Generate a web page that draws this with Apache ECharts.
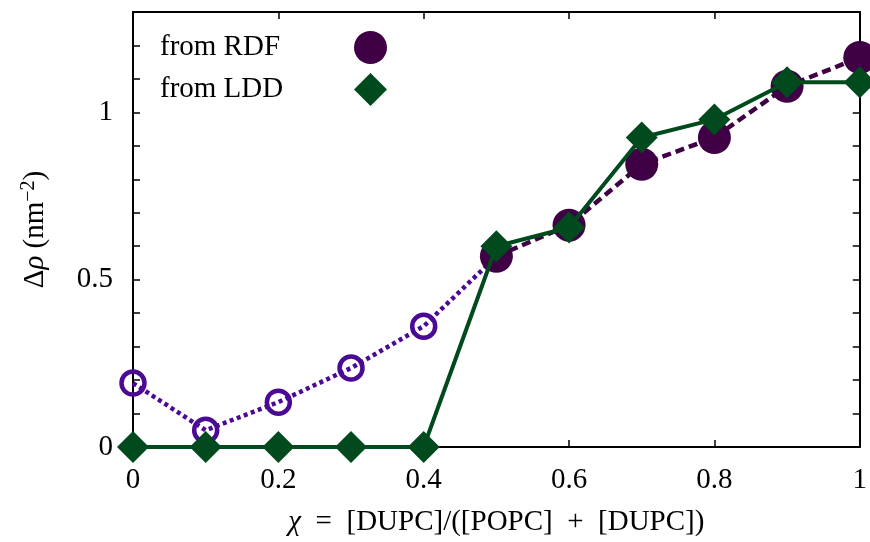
<!DOCTYPE html>
<html>
<head>
<meta charset="utf-8">
<script src="https://cdn.jsdelivr.net/npm/echarts@6/dist/echarts.min.js"></script>
<style>
  html, body { margin: 0; padding: 0; background: #fff; }
  #chart { width: 870px; height: 542px; }
</style>
</head>
<body>
<div id="chart"></div>
<script>
// Composition values
const xOpen = [0, 0.1, 0.2, 0.3, 0.4];
const rdfOpen = [0.191, 0.05, 0.134, 0.236, 0.361];
const xFilled = [0.5, 0.6, 0.7, 0.8, 0.9, 1.0];
const rdfFilled = [0.57, 0.663, 0.845, 0.925, 1.078, 1.164];
const xLdd = [0, 0.1, 0.2, 0.3, 0.4, 0.5, 0.6, 0.7, 0.8, 0.9, 1.0];
const ldd = [0, 0, 0, 0, 0, 0.6, 0.656, 0.925, 0.979, 1.09, 1.09];
const yLabels = { '0': '0', '0.5': '0.5', '1': '1' };

const FONT = 'Liberation Serif';
const FS = 29;
const openColor = '#4b0a94';
const filledColor = '#3f0046';
const greenColor = '#004a1e';

const pairs = (xs, ys) => xs.map((x, i) => [x, ys[i]]);

// dotted open-circle series runs on to the first filled point
const openData = pairs(xOpen, rdfOpen);
openData.push({ value: [xFilled[0], rdfFilled[0]], symbol: 'none' });

const chart = echarts.init(document.getElementById('chart'));
const tickStyle = { lineStyle: { color: '#000', width: 1.5 } };
const axisLine = { show: true, onZero: false, lineStyle: { color: '#000', width: 2 } };

chart.setOption({
  animation: false,
  backgroundColor: '#fff',
  grid: { left: 133, right: 7, top: 12, bottom: 95 },
  xAxis: [{
    type: 'value', min: 0, max: 1, interval: 0.2,
    axisLine: axisLine,
    axisTick: { show: true, inside: true, length: 7, ...tickStyle },
    splitLine: { show: false },
    axisLabel: {
      fontFamily: FONT, fontSize: FS, color: '#000', margin: 19,
      formatter: v => String(+v.toFixed(2))
    },
    name: '{i|χ}  =  [DUPC]/([POPC]  +  [DUPC])',
    nameLocation: 'middle', nameGap: 61,
    nameTextStyle: {
      fontFamily: FONT, fontSize: FS, color: '#000',
      rich: { i: { fontFamily: FONT, fontSize: FS, fontStyle: 'italic' } }
    }
  }, {
    type: 'value', min: 0, max: 1, interval: 0.2, position: 'top',
    axisLine: axisLine,
    axisTick: { show: true, inside: true, length: 7, ...tickStyle },
    axisLabel: { show: false },
    splitLine: { show: false }
  }],
  yAxis: [{
    type: 'value', min: 0, max: 1.3, interval: 0.1,
    axisLine: axisLine,
    axisTick: { show: true, inside: true, length: 7, ...tickStyle },
    splitLine: { show: false },
    axisLabel: {
      fontFamily: FONT, fontSize: FS, color: '#000', margin: 20,
      formatter: v => yLabels[String(+v.toFixed(2))] || ''
    },
    name: 'Δ{i|ρ} (nm{s|−2})',
    nameLocation: 'middle', nameGap: 82, nameRotate: 90,
    nameTextStyle: {
      fontFamily: FONT, fontSize: FS, color: '#000',
      rich: {
        i: { fontFamily: FONT, fontSize: FS, fontStyle: 'italic' },
        s: { fontFamily: FONT, fontSize: 20, verticalAlign: 'top', padding: [0, 0, 12, 0] }
      }
    }
  }, {
    type: 'value', min: 0, max: 1.3, interval: 0.1, position: 'right',
    axisLine: axisLine,
    axisTick: { show: true, inside: true, length: 7, ...tickStyle },
    axisLabel: { show: false },
    splitLine: { show: false }
  }],
  legend: {
    orient: 'vertical', left: 155, top: 26, align: 'right',
    itemWidth: 33, itemHeight: 33, itemGap: 9,
    formatter: '{t|{name}}',
    textStyle: {
      fontFamily: FONT, fontSize: FS, color: '#000',
      rich: { t: { fontFamily: FONT, fontSize: FS, width: 189, align: 'left' } }
    },
    data: [
      { name: 'from RDF', icon: 'circle' },
      { name: 'from LDD', icon: 'diamond' }
    ]
  },
  series: [{
    name: 'RDF open',
    type: 'line', data: openData, clip: false, z: 2,
    symbol: 'circle', symbolSize: 23,
    lineStyle: { color: openColor, width: 4.5, type: [4, 3.5] },
    itemStyle: { color: 'rgba(255,255,255,0)', borderColor: openColor, borderWidth: 4.5 }
  }, {
    name: 'from RDF',
    type: 'line', data: pairs(xFilled, rdfFilled), clip: false, z: 3,
    symbol: 'circle', symbolSize: 33,
    lineStyle: { color: filledColor, width: 4.5, type: [9, 5] },
    itemStyle: { color: filledColor }
  }, {
    name: 'from LDD',
    type: 'line', data: pairs(xLdd, ldd), clip: false, z: 4,
    symbol: 'diamond', symbolSize: [32, 32],
    lineStyle: { color: greenColor, width: 4 },
    itemStyle: { color: greenColor }
  }]
});
</script>
</body>
</html>
